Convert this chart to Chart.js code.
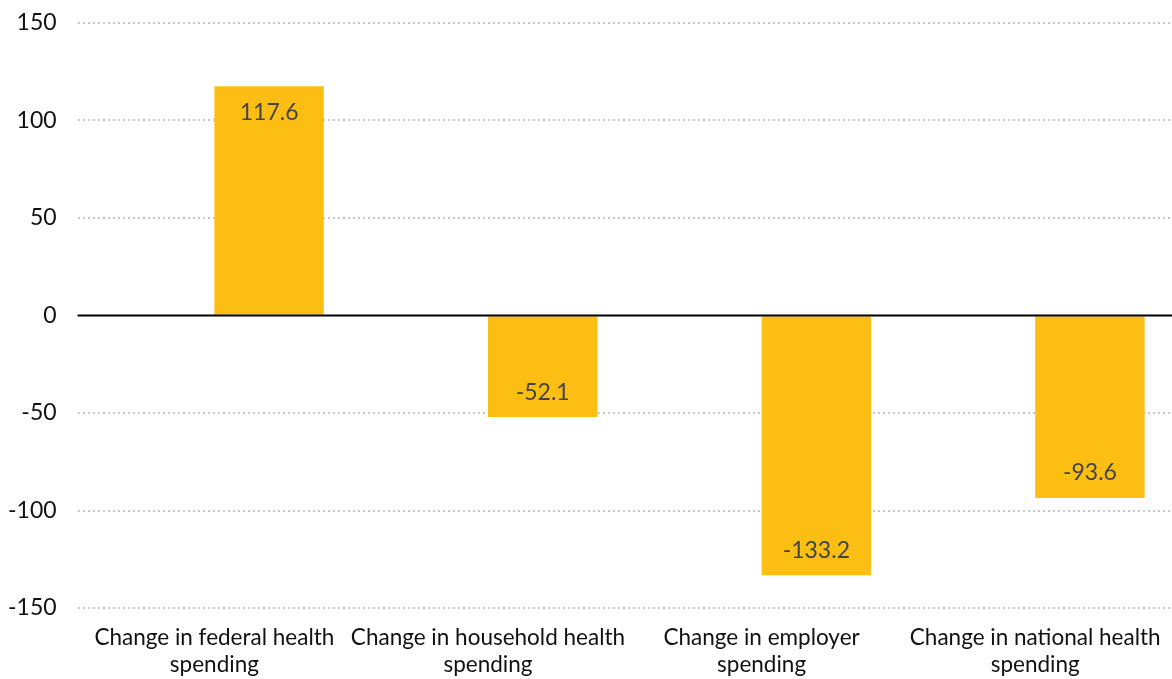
<!DOCTYPE html>
<html>
<head>
<meta charset="utf-8">
<script src="https://cdn.jsdelivr.net/npm/chart.js@4"></script>
<style>
html,body{margin:0;padding:0;background:#fff;}
#wrap{width:1172px;height:679px;}
</style>
</head>
<body>
<div id="wrap"><canvas id="c"></canvas></div>
<script>
const categories = [
  ["Change in federal health", "spending"],
  ["Change in household health", "spending"],
  ["Change in employer", "spending"],
  ["Change in national health", "spending"]
];
const values = [117.6, -52.1, -133.2, -93.6];
const yTicks = [-150, -100, -50, 0, 50, 100, 150];

const zeroLine = {
  id: 'zeroLine',
  afterDatasetsDraw(chart) {
    const y = chart.scales.y.getPixelForValue(0);
    const ctx = chart.ctx;
    ctx.save();
    ctx.strokeStyle = '#000';
    ctx.lineWidth = 2;
    ctx.beginPath();
    ctx.moveTo(chart.chartArea.left, y);
    ctx.lineTo(chart.chartArea.right, y);
    ctx.stroke();
    ctx.restore();
  }
};

const valueLabels = {
  id: 'valueLabels',
  afterDatasetsDraw(chart) {
    const meta = chart.getDatasetMeta(1);
    const ctx = chart.ctx;
    ctx.save();
    ctx.font = '23px Lato';
    ctx.fillStyle = '#444';
    ctx.textAlign = 'center';
    ctx.textBaseline = 'middle';
    meta.data.forEach((bar, i) => {
      const v = values[i];
      const y = v >= 0 ? bar.y + 26 : bar.y - 25;
      ctx.fillText(v.toFixed(1), bar.x, y);
    });
    ctx.restore();
  }
};

new Chart(document.getElementById('c'), {
  type: 'bar',
  data: {
    labels: categories,
    datasets: [
      { data: values.map(() => null), backgroundColor: 'transparent' },
      { data: values, backgroundColor: '#FDBE14', borderWidth: 0 }
    ]
  },
  options: {
    responsive: true,
    maintainAspectRatio: false,
    animation: false,
    layout: { padding: { top: 23, right: 0, left: -13, bottom: -7 } },
    datasets: { bar: { categoryPercentage: 0.8, barPercentage: 1.0 } },
    plugins: { legend: { display: false }, tooltip: { enabled: false } },
    scales: {
      x: {
        grid: { display: false },
        border: { display: false },
        ticks: { color: '#111', font: { family: 'Lato', size: 22.5, lineHeight: 1.2 }, maxRotation: 0, autoSkip: false, padding: 8 }
      },
      y: {
        min: -150, max: 150,
        afterBuildTicks(scale) { scale.ticks = yTicks.map(v => ({ value: v })); },
        afterFit(scale) { scale.paddingTop = 0; scale.paddingBottom = 0; },
        grid: {
          color: ctx => ctx.tick && ctx.tick.value === 0 ? 'rgba(0,0,0,0)' : '#c8c8c8',
          lineWidth: 2,
          drawTicks: false
        },
        border: { display: false, dash: [2, 3] },
        ticks: { color: '#111', font: { family: 'Lato', size: 23 }, padding: 21 }
      }
    }
  },
  plugins: [zeroLine, valueLabels]
});
</script>
</body>
</html>
